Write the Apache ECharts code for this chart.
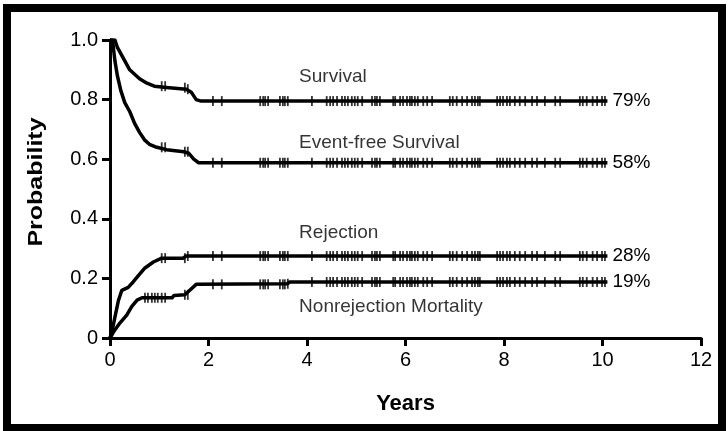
<!DOCTYPE html>
<html>
<head>
<meta charset="utf-8">
<script src="https://cdn.jsdelivr.net/npm/echarts@6/dist/echarts.min.js"></script>
<style>
  html, body { margin: 0; padding: 0; background: #fff; }
  #chart { width: 728px; height: 431px; }
</style>
</head>
<body>
<div id="chart"></div>
<script>
  // curves: [years, probability]
  var survival = [[0,1],[0.1,1],[0.15,0.975],[0.2,0.96],[0.3,0.93],[0.4,0.9],[0.5,0.885],[0.6,0.87],[0.75,0.855],[0.9,0.845],[1.2,0.84],[1.55,0.835],[1.65,0.825],[1.75,0.8],[1.85,0.795],[10.1,0.795]];
  var eventFree = [[0,1],[0.05,1],[0.1,0.93],[0.15,0.88],[0.22,0.83],[0.3,0.79],[0.4,0.76],[0.5,0.72],[0.6,0.69],[0.7,0.665],[0.8,0.65],[0.95,0.64],[1.15,0.632],[1.5,0.625],[1.6,0.62],[1.7,0.6],[1.8,0.588],[10.1,0.588]];
  var rejection = [[0,0],[0.05,0.03],[0.1,0.07],[0.17,0.125],[0.24,0.16],[0.37,0.17],[0.47,0.188],[0.58,0.21],[0.71,0.235],[0.88,0.255],[1.05,0.268],[1.48,0.268],[1.55,0.275],[10.1,0.275]];
  var nonRejection = [[0,0],[0.07,0.02],[0.2,0.05],[0.34,0.077],[0.44,0.105],[0.55,0.127],[0.65,0.135],[1.26,0.135],[1.3,0.143],[1.52,0.145],[1.62,0.16],[1.75,0.18],[3.6,0.182],[3.65,0.188],[10.1,0.188]];

  // censoring marks (years), shared by all curves
  var censorTimes = [1.05,1.12,1.52,1.58,2.09,2.27,3.05,3.11,3.15,3.21,3.45,3.51,3.55,3.61,4.1,4.4,4.47,4.53,4.61,4.71,4.77,4.83,4.91,4.97,5.03,5.12,5.32,5.38,5.42,5.48,5.75,5.79,5.89,5.95,6.03,6.09,6.13,6.19,6.25,6.36,6.44,6.54,6.9,6.96,7.04,7.15,7.25,7.35,7.41,7.47,7.51,7.86,7.92,7.98,8.06,8.12,8.22,8.32,8.43,8.57,8.67,8.83,9.04,9.14,9.54,9.6,9.68,9.8,9.89,9.99,10.05];
  // extra early marks seen only on the nonrejection mortality curve
  var earlyCensorNonRej = [0.71,0.77,0.85,0.91,0.97];

  var curveNames = ['Survival', 'Event-free Survival', 'Rejection', 'Nonrejection Mortality'];
  var endLabels = ['79%', '58%', '28%', '19%'];
  // where the curve names sit [years, probability]
  var namePos = [[3.84, 0.877], [3.84, 0.656], [3.84, 0.354], [3.84, 0.105]];

  var xTicks = [0, 2, 4, 6, 8, 10, 12];
  var yTicks = [0, 0.2, 0.4, 0.6, 0.8, 1.0];

  var curves = [survival, eventFree, rejection, nonRejection];
  var censors = [censorTimes, censorTimes, censorTimes, earlyCensorNonRej.concat(censorTimes)];
  var font = 'Liberation Sans, Arial, Helvetica, sans-serif';

  // value of the curve at or before t
  function valueAt(curve, t) {
    var v = curve[0][1];
    for (var i = 0; i < curve.length; i++) {
      if (curve[i][0] <= t) v = curve[i][1];
    }
    return v;
  }

  var series = [];
  curves.forEach(function (c, idx) {
    series.push({
      name: curveNames[idx],
      type: 'line',
      data: c,
      showSymbol: false,
      silent: true,
      animation: false,
      lineStyle: { color: '#000', width: 3.5, join: 'round' },
      endLabel: {
        show: true,
        formatter: endLabels[idx],
        color: '#000',
        fontFamily: font,
        fontSize: 19,
        distance: 5
      },
      z: 3
    });
    series.push({
      type: 'scatter',
      data: censors[idx].map(function (t) { return [t, valueAt(c, t)]; }),
      symbol: 'rect',
      symbolSize: [1.8, 10],
      itemStyle: { color: '#000' },
      silent: true,
      animation: false,
      z: 4
    });
  });

  series.push({
    type: 'scatter',
    data: namePos.map(function (p, i) { return { value: p, name: curveNames[i] }; }),
    symbolSize: 0,
    silent: true,
    animation: false,
    label: {
      show: true,
      position: 'right',
      distance: 0,
      formatter: '{b}',
      color: '#000',
      fontFamily: font,
      fontSize: 19
    }
  });

  var myChart = echarts.init(document.getElementById('chart'));
  myChart.setOption({
    backgroundColor: '#fff',
    animation: false,
    grid: { left: 110, right: 27, top: 40, bottom: 93, containLabel: false },
    graphic: [{
      type: 'rect',
      shape: { x: 7, y: 8, width: 715, height: 420 },
      style: { fill: 'none', stroke: '#000', lineWidth: 8 },
      silent: true
    }, {
      // y axis title, stretched along its length like the scan
      type: 'text',
      x: 36,
      y: 182,
      rotation: Math.PI / 2,
      scaleX: 1.25,
      style: {
        text: 'Probability',
        fill: '#000',
        font: 'bold 20px ' + font,
        align: 'center',
        verticalAlign: 'middle'
      },
      silent: true
    }],
    xAxis: {
      type: 'value',
      min: xTicks[0],
      max: xTicks[xTicks.length - 1],
      interval: 2,
      name: 'Years',
      nameLocation: 'middle',
      nameGap: 55,
      nameTextStyle: { color: '#000', fontFamily: font, fontSize: 22, fontWeight: 'bold' },
      splitLine: { show: false },
      axisLine: { lineStyle: { color: '#000', width: 3 } },
      axisTick: { show: true, length: 8, lineStyle: { color: '#000', width: 3 } },
      axisLabel: { color: '#000', fontFamily: font, fontSize: 20, margin: 12 }
    },
    yAxis: {
      type: 'value',
      min: yTicks[0],
      max: yTicks[yTicks.length - 1],
      interval: 0.2,
      splitLine: { show: false },
      axisLine: { show: true, lineStyle: { color: '#000', width: 3 } },
      axisTick: { show: true, length: 8, lineStyle: { color: '#000', width: 3 } },
      axisLabel: {
        color: '#000', fontFamily: font, fontSize: 20, margin: 12,
        formatter: function (v) { return v === 0 ? '0' : v.toFixed(1); }
      }
    },
    series: series
  });
</script>
</body>
</html>
